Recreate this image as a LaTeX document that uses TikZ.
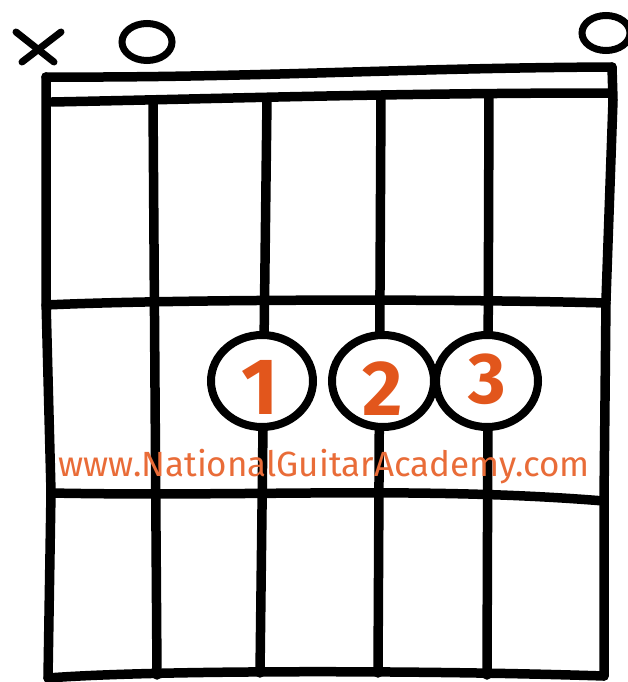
\documentclass[tikz,border=0pt]{standalone}
\usepackage{fontspec}
\setmainfont{Fira Sans}
\usetikzlibrary{calc,shapes.geometric}
\definecolor{digitorange}{HTML}{E2561C}
\definecolor{urlorange}{HTML}{E96C38}
\begin{document}
\begin{tikzpicture}[x=1pt,y=-1pt,
  ink/.style={line width=9.5pt,line cap=round,line join=round,black},
  finger/.style={ellipse,draw=black,line width=8pt,minimum width=102pt,minimum height=92pt,inner sep=0pt},
  digit/.style={text=digitorange,inner sep=0pt},
  openmark/.style={ellipse,draw=black,line width=7pt,inner sep=0pt},
  url/.style={text=urlorange,font=\fontsize{35}{35}\selectfont,inner sep=0pt}]
\useasboundingbox (0,0) rectangle (627,682);
\fill[white] (0,0) rectangle (627,682);
% frame corners
\coordinate (tl) at (46,77);
\coordinate (tr) at (612,67);
\coordinate (bl) at (48,678);
\coordinate (br) at (604,676);
% nut lines
\draw[ink] (tl) .. controls (250,78) and (400,68) .. (tr);
\draw[ink] (52,102) .. controls (250,98) and (400,93) .. (612,93);
% outer borders
\draw[ink] (tl) -- (46,300) -- (51,492) -- (bl);
\draw[ink] (tr) -- (613,100) -- (606,300) -- (604,500) -- (br);
% string tops and bottoms
\coordinate (s2t) at (153,101); \coordinate (s2b) at (157,675);
\coordinate (s3t) at (267,99);  \coordinate (s3b) at (260,673);
\coordinate (s4t) at (381,97);  \coordinate (s4b) at (378,673);
\coordinate (s5t) at (489,95);  \coordinate (s5b) at (487,675);
\foreach \s in {2,3,4,5}{\draw[ink] (s\s t) -- (s\s b);}
% frets
\coordinate (f1l) at (46,305); \coordinate (f1r) at (606,303);
\coordinate (f2l) at (51,493); \coordinate (f2r) at (604,501);
\draw[ink] (f1l) .. controls (150,300) and (420,298) .. (f1r);
\draw[ink] (f2l) .. controls (250,497) and (420,486) .. (f2r);
\draw[ink] (bl) .. controls (150,670) and (420,670) .. (br);
% open / muted marks
\coordinate (mute) at (38,47);
\draw[line width=7pt,line cap=round] ($(mute)+(-22,-15)$) -- ($(mute)+(16,15)$);
\draw[line width=7pt,line cap=round] ($(mute)+(-16,15)$) -- ($(mute)+(23,-15)$);
\node[openmark,minimum width=50pt,minimum height=37pt] (open2) at (147,42) {};
\node[openmark,minimum width=48pt,minimum height=35pt] (open6) at (606,33) {};
% fingers: white fill first, outlines after so crossings stay visible
\foreach \cx in {262,383,487}{\fill[white] (\cx,381) ellipse [x radius=51pt,y radius=46pt];}
\node[finger] (fa) at (262,381) {};
\node[finger] (fb) at (383,381) {};
\node[finger] (fc) at (487,381) {};
\node[digit,font=\fontsize{80}{80}\selectfont\bfseries] (d1) at ($(fa)+(-2,6)$) {1};
\node[digit,font=\fontsize{78}{78}\selectfont\bfseries] (d2) at ($(fb)+(0,8)$) {2};
\node[digit,font=\fontsize{72}{72}\selectfont\bfseries] (d3) at ($(fc)+(0,-2)$) {3};
% url
\node[url] (site) at (324,467) {www.NationalGuitarAcademy.com};
\end{tikzpicture}
\end{document}
